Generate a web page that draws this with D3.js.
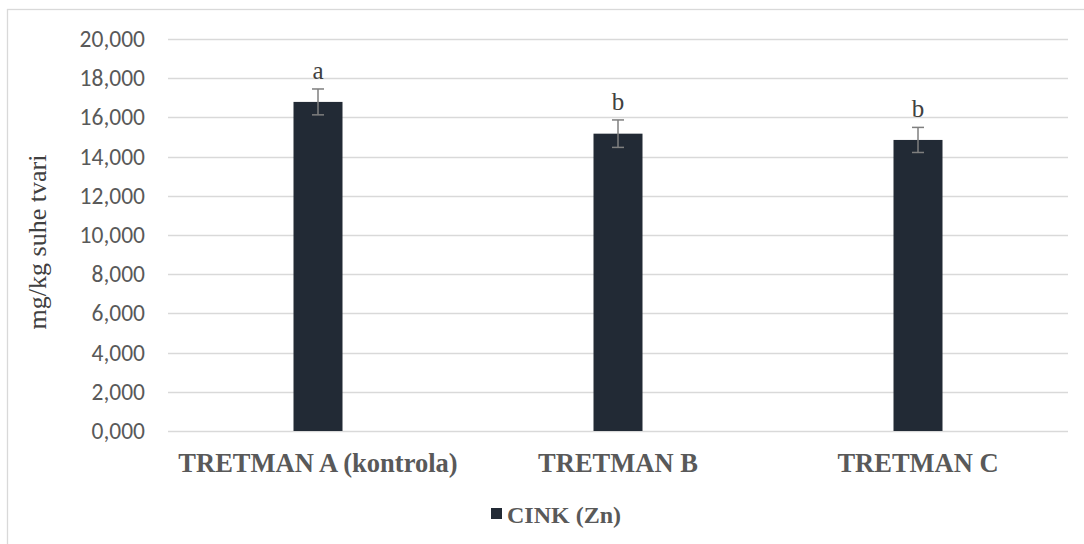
<!DOCTYPE html>
<html><head><meta charset="utf-8">
<script src="https://cdn.jsdelivr.net/npm/d3@7"></script>
<style>body{margin:0;background:#fff}svg{display:block}
.serif{font-family:"Liberation Serif","Times New Roman","DejaVu Serif","Noto Serif",serif}
.sans{font-family:Carlito,"Open Sans","Noto Sans",sans-serif}
</style>
</head><body>
<svg id="c" width="1084" height="544"></svg>
<script>
const categories = ["TRETMAN A (kontrola)", "TRETMAN B", "TRETMAN C"];
const values = [16.79, 15.17, 14.85];
const errors = [0.66, 0.70, 0.64];
const letters = ["a", "b", "b"];
const yTicks = [0, 2, 4, 6, 8, 10, 12, 14, 16, 18, 20];
const seriesName = "CINK (Zn)";

const svg = d3.select("#c");
const W = 1084, H = 544;
svg.append("rect").attr("x", 7.5).attr("y", 9.5).attr("width", W).attr("height", H).attr("fill", "#fff").attr("stroke", "#d9d9d9").attr("stroke-width", 1.3);

const x = d3.scaleBand().domain(categories).range([168, 1068]);
const y = d3.scaleLinear().domain([0, 20]).range([431, 39]);
const fmtTick = v => (v === 0 ? "0,000" : (v + ",000"));

svg.append("g").selectAll("line").data(yTicks).join("line")
  .attr("x1", 168).attr("x2", 1068)
  .attr("y1", d => Math.round(y(d)) + 0.5).attr("y2", d => Math.round(y(d)) + 0.5)
  .attr("stroke", "#d9d9d9").attr("stroke-width", 1.3);

svg.append("g").selectAll("text").data(yTicks).join("text")
  .attr("class", "sans")
  .attr("x", 145).attr("y", d => y(d)).attr("dy", "0.34em")
  .attr("text-anchor", "end")
  .attr("font-size", 23.5).attr("fill", "#595959").text(fmtTick);

svg.append("text").attr("class", "serif").attr("transform", "translate(46,242) rotate(-90)")
  .attr("text-anchor", "middle")
  .attr("font-size", 26).attr("fill", "#404040").text("mg/kg suhe tvari");

const bw = 49;
svg.append("g").selectAll("rect").data(categories).join("rect")
  .attr("x", d => x(d) + x.bandwidth() / 2 - bw / 2).attr("width", bw)
  .attr("y", (d, i) => y(values[i])).attr("height", (d, i) => y(0) - y(values[i]))
  .attr("fill", "#222a35");

const eb = svg.append("g").attr("stroke", "#7f7f7f").attr("stroke-width", 1.5);
categories.forEach((c, i) => {
  const cx = x(c) + x.bandwidth() / 2;
  const t = y(values[i] + errors[i]), b = y(values[i] - errors[i]);
  eb.append("line").attr("x1", cx).attr("x2", cx).attr("y1", t).attr("y2", b);
  eb.append("line").attr("x1", cx - 6).attr("x2", cx + 6).attr("y1", t).attr("y2", t);
  eb.append("line").attr("x1", cx - 6).attr("x2", cx + 6).attr("y1", b).attr("y2", b);
});

svg.append("g").selectAll("text").data(categories).join("text")
  .attr("class", "serif")
  .attr("x", d => x(d) + x.bandwidth() / 2)
  .attr("y", (d, i) => y(values[i] + errors[i]) - 10)
  .attr("text-anchor", "middle")
  .attr("font-size", 25).attr("fill", "#404040").text((d, i) => letters[i]);

svg.append("g").selectAll("text").data(categories).join("text")
  .attr("class", "serif")
  .attr("x", d => x(d) + x.bandwidth() / 2).attr("y", 472)
  .attr("text-anchor", "middle")
  .attr("font-weight", "bold").attr("font-size", 26.5).attr("fill", "#595959").text(d => d);

const lg = svg.append("g");
lg.append("rect").attr("x", 491).attr("y", 508).attr("width", 11).attr("height", 11).attr("fill", "#222a35");
lg.append("text").attr("class", "serif").attr("x", 507).attr("y", 523)
  .attr("font-weight", "bold").attr("font-size", 24).attr("fill", "#595959").text(seriesName);
</script>
</body></html>
